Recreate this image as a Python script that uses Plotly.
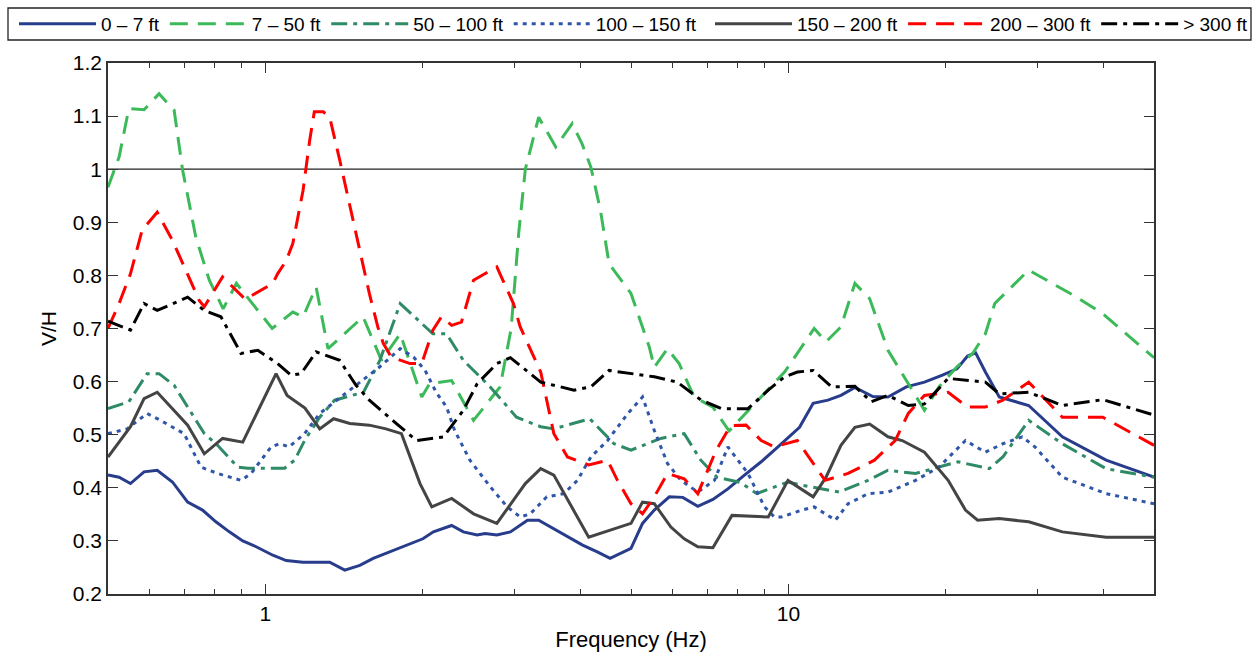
import plotly.graph_objects as go

# ---- data (frequency in Hz, V/H ratio) ----
f_0_7 = [0.5, 0.525, 0.552, 0.586, 0.621, 0.664, 0.71, 0.758, 0.804, 0.853, 0.905, 0.96, 1.033, 1.096, 1.179,
         1.327, 1.418, 1.515, 1.607, 1.73, 1.862, 2.0, 2.095, 2.27, 2.39, 2.54, 2.63, 2.77, 2.94, 3.17, 3.33, 3.56,
         3.78, 4.04, 4.32, 4.56, 5.0, 5.26, 5.54, 5.92, 6.28, 6.71, 7.17, 7.66, 8.24, 8.87, 9.55, 10.5, 11.15, 11.9,
         12.6, 13.4, 14.5, 15.5, 16.8, 18.2, 19.7, 21.0, 22.0, 22.8, 23.8, 25.3, 28.8, 33.4, 40.5, 50]
v_0_7 = [0.424, 0.420, 0.408, 0.430, 0.433, 0.411, 0.373, 0.358, 0.336, 0.317, 0.300, 0.289, 0.273, 0.263, 0.260,
         0.260, 0.245, 0.254, 0.267, 0.279, 0.292, 0.304, 0.317, 0.329, 0.317, 0.311, 0.314, 0.311, 0.317, 0.339,
         0.339, 0.323, 0.307, 0.292, 0.279, 0.267, 0.286, 0.333, 0.358, 0.383, 0.382, 0.365, 0.378, 0.398, 0.424,
         0.449, 0.477, 0.514, 0.559, 0.565, 0.574, 0.589, 0.572, 0.571, 0.590, 0.599, 0.612, 0.624, 0.648, 0.654,
         0.618, 0.571, 0.555, 0.496, 0.452, 0.420]

f_7_50 = [0.5, 0.525, 0.548, 0.586, 0.626, 0.669, 0.694, 0.736, 0.781, 0.83, 0.88, 1.03, 1.128, 1.18, 1.25,
          1.317, 1.537, 1.667, 1.81, 1.96, 1.99, 2.06, 2.27, 2.5, 2.81, 2.95, 3.05, 3.14, 3.33, 3.43, 3.59, 3.86,
          4.03, 4.19, 4.37, 4.54, 5.0, 5.42, 5.54, 5.87, 6.18, 6.6, 7.17, 7.7, 9.83, 11.2, 11.8, 12.6, 13.4, 14.3,
          15.5, 16.5, 18.2, 19.4, 21.0, 22.5, 23.8, 24.8, 28.8, 35.0, 39.9, 50]
v_7_50 = [0.966, 1.023, 1.114, 1.112, 1.142, 1.111, 1.0, 0.872, 0.791, 0.737, 0.785, 0.700, 0.731, 0.722, 0.778,
          0.662, 0.722, 0.640, 0.690, 0.593, 0.571, 0.596, 0.602, 0.527, 0.590, 0.70, 0.88, 1.0, 1.098, 1.076,
          1.042, 1.086, 1.048, 1.004, 0.923, 0.822, 0.766, 0.665, 0.627, 0.662, 0.634, 0.571, 0.552, 0.507, 0.618,
          0.700, 0.675, 0.703, 0.785, 0.756, 0.659, 0.615, 0.546, 0.590, 0.628, 0.653, 0.690, 0.747, 0.810, 0.763,
          0.728, 0.645]

f_50_100 = [0.5, 0.548, 0.594, 0.626, 0.669, 0.764, 0.81, 0.885, 0.925, 1.088, 1.137, 1.188, 1.27, 1.356, 1.54,
            1.655, 1.81, 2.09, 2.22, 2.39, 2.69, 3.02, 3.36, 3.56, 4.17, 4.64, 5.0, 5.7, 6.32, 6.8, 7.3, 8.1, 8.7,
            9.98, 10.6, 12.5, 14.2, 15.5, 17.5, 19.4, 21.1, 24.2, 25.7, 28.8, 33.4, 40.5, 50]
v_50_100 = [0.549, 0.562, 0.615, 0.615, 0.593, 0.502, 0.480, 0.439, 0.437, 0.437, 0.452, 0.489, 0.533, 0.565, 0.580,
            0.640, 0.747, 0.690, 0.690, 0.640, 0.590, 0.533, 0.515, 0.511, 0.530, 0.483, 0.471, 0.493, 0.502, 0.452,
            0.420, 0.410, 0.389, 0.411, 0.405, 0.392, 0.414, 0.433, 0.427, 0.439, 0.449, 0.436, 0.458, 0.527, 0.483,
            0.436, 0.420]

f_100_150 = [0.5, 0.544, 0.594, 0.63, 0.699, 0.753, 0.81, 0.898, 0.939, 1.025, 1.064, 1.11, 1.188, 1.27, 1.45,
             1.655, 1.81, 1.92, 2.02, 2.12, 2.22, 2.30, 2.46, 2.69, 2.9, 3.07, 3.21, 3.45, 3.72, 3.95, 4.19, 4.51,
             4.93, 5.26, 5.54, 5.87, 6.23, 6.71, 7.22, 7.66, 8.37, 9.0, 9.4, 9.7, 10.6, 11.2, 12.3, 13.0, 14.2, 15.5,
             17.5, 19.4, 21.8, 23.8, 25.7, 28.0, 29.6, 33.4, 40.5, 50]
v_100_150 = [0.502, 0.511, 0.540, 0.527, 0.502, 0.439, 0.427, 0.414, 0.427, 0.477, 0.483, 0.477, 0.502, 0.540, 0.584,
             0.628, 0.662, 0.646, 0.621, 0.580, 0.552, 0.508, 0.452, 0.402, 0.364, 0.345, 0.351, 0.383, 0.389, 0.414,
             0.458, 0.489, 0.540, 0.571, 0.508, 0.446, 0.414, 0.392, 0.414, 0.477, 0.427, 0.364, 0.345, 0.345, 0.358,
             0.364, 0.339, 0.370, 0.389, 0.392, 0.414, 0.439, 0.489, 0.467, 0.483, 0.496, 0.477, 0.420, 0.389, 0.370]

f_150_200 = [0.5, 0.552, 0.586, 0.621, 0.71, 0.764, 0.828, 0.905, 1.048, 1.10, 1.19, 1.27, 1.35, 1.45, 1.58, 1.70,
             1.82, 1.975, 2.08, 2.27, 2.5, 2.77, 3.14, 3.36, 3.56, 4.15, 5.0, 5.26, 5.54, 5.96, 6.32, 6.71, 7.17, 7.8,
             9.15, 9.98, 11.15, 11.8, 12.6, 13.4, 14.3, 15.5, 16.5, 18.2, 20.2, 21.8, 23.0, 25.3, 28.8, 33.4, 40.5, 50]
v_150_200 = [0.458, 0.515, 0.568, 0.580, 0.518, 0.464, 0.493, 0.486, 0.615, 0.574, 0.550, 0.511, 0.530, 0.521, 0.518,
             0.511, 0.502, 0.408, 0.364, 0.380, 0.351, 0.333, 0.408, 0.436, 0.424, 0.307, 0.333, 0.373, 0.370, 0.326,
             0.304, 0.289, 0.287, 0.348, 0.345, 0.414, 0.383, 0.420, 0.480, 0.514, 0.520, 0.496, 0.489, 0.467, 0.414,
             0.358, 0.339, 0.342, 0.336, 0.317, 0.307, 0.307]

f_200_300 = [0.5, 0.525, 0.552, 0.581, 0.621, 0.664, 0.704, 0.747, 0.764, 0.828, 0.915, 1.033, 1.055, 1.096, 1.128,
             1.18, 1.215, 1.24, 1.29, 1.327, 1.387, 1.45, 1.515, 1.58, 1.64, 1.68, 1.74, 1.89, 1.99, 2.09, 2.17, 2.27,
             2.37, 2.5, 2.59, 2.77, 2.98, 3.07, 3.36, 3.56, 3.78, 4.15, 4.51, 4.71, 5.0, 5.26, 5.54, 5.87, 6.32, 6.71,
             7.27, 7.75, 8.3, 8.87, 9.4, 10.4, 11.75, 13.0, 14.6, 16.0, 16.95, 18.2, 20.2, 22.0, 23.8, 25.7, 28.8,
             33.4, 39.9, 50]
v_200_300 = [0.700, 0.747, 0.803, 0.885, 0.919, 0.866, 0.810, 0.753, 0.741, 0.797, 0.755, 0.785, 0.803, 0.828, 0.860,
             0.960, 1.054, 1.108, 1.108, 1.098, 1.017, 0.929, 0.847, 0.766, 0.703, 0.672, 0.646, 0.634, 0.634, 0.697,
             0.722, 0.706, 0.712, 0.791, 0.800, 0.816, 0.747, 0.703, 0.618, 0.502, 0.458, 0.443, 0.452, 0.414, 0.370,
             0.351, 0.383, 0.427, 0.417, 0.389, 0.470, 0.517, 0.518, 0.489, 0.477, 0.489, 0.414, 0.427, 0.452, 0.489,
             0.540, 0.574, 0.580, 0.552, 0.552, 0.565, 0.599, 0.533, 0.533, 0.480]

f_300 = [0.5, 0.552, 0.586, 0.621, 0.71, 0.764, 0.822, 0.898, 0.967, 1.055, 1.12, 1.17, 1.25, 1.387, 1.49, 1.58,
         1.78, 1.945, 2.19, 2.39, 2.54, 2.77, 2.94, 3.36, 3.89, 4.19, 4.54, 5.54, 6.13, 6.81, 7.45, 8.37, 9.15, 9.83,
         10.4, 11.15, 12.1, 13.4, 14.4, 15.5, 16.95, 18.2, 20.2, 22.0, 23.8, 25.3, 28.8, 33.4, 39.9, 50]
v_300 = [0.714, 0.697, 0.747, 0.734, 0.759, 0.734, 0.722, 0.653, 0.659, 0.634, 0.612, 0.615, 0.656, 0.640, 0.593,
         0.565, 0.521, 0.489, 0.496, 0.546, 0.596, 0.634, 0.645, 0.599, 0.584, 0.590, 0.621, 0.609, 0.599, 0.565,
         0.549, 0.549, 0.584, 0.609, 0.618, 0.621, 0.590, 0.591, 0.562, 0.574, 0.555, 0.558, 0.606, 0.602, 0.599,
         0.577, 0.580, 0.555, 0.566, 0.537]

series_names = ["0 \u2013 7 ft", "7 \u2013 50 ft", "50 \u2013 100 ft", "100 \u2013 150 ft",
                "150 \u2013 200 ft", "200 \u2013 300 ft", "> 300 ft"]
series_f = [f_0_7, f_7_50, f_50_100, f_100_150, f_150_200, f_200_300, f_300]
series_v = [v_0_7, v_7_50, v_50_100, v_100_150, v_150_200, v_200_300, v_300]

x_major_ticks = [1, 10]
x_minor_ticks = [0.6, 0.7, 0.8, 0.9, 2, 3, 4, 5, 6, 7, 8, 9, 20, 30, 40]
y_ticks = [0.2, 0.3, 0.4, 0.5, 0.6, 0.7, 0.8, 0.9, 1.0, 1.1, 1.2]
y_ticktext = ["0.2", "0.3", "0.4", "0.5", "0.6", "0.7", "0.8", "0.9", "1", "1.1", "1.2"]
reference_level = 1.0

# ---- styles ----
colors = ["#283c8c", "#3cba5a", "#2e8b66", "#2f56a8", "#444444", "#ff0000", "#000000"]
dashes = ["solid", "18px,10px", "16px,6px,4px,6px", "4px,5px", "solid", "18px,10px", "16px,6px,4px,6px"]
widths = [3, 3, 3, 3, 3, 3, 3]
legend_ids = ["legend", "legend", "legend", "legend", "legend2", "legend2", "legend2"]

FONT = "Liberation Sans, Arial, Helvetica, sans-serif"

# plot area in pixels (for converting legend placement to paper coords)
L, R, T, B, W, H = 108, 101, 63, 65, 1255, 659
PW, PH = W - L - R, H - T - B


def px_x(px):
    return (px - L) / PW


def px_y(py):
    return (H - B - py) / PH


fig = go.Figure()
for name, fx, vy, c, d, w, lg in zip(series_names, series_f, series_v, colors, dashes, widths, legend_ids):
    fig.add_trace(go.Scatter(x=fx, y=vy, mode="lines", name=name, legend=lg,
                             line=dict(color=c, dash=d, width=w)))

fig.add_hline(y=reference_level, line=dict(color="#222222", width=1.2), layer="below")

# legend frame spanning both legend blocks
fig.add_shape(type="rect", xref="paper", yref="paper",
              x0=px_x(8), x1=px_x(1251), y0=px_y(40), y1=px_y(8),
              line=dict(color="#222222", width=1.3), fillcolor="rgba(0,0,0,0)", layer="above")

legend_common = dict(orientation="h", yanchor="middle", y=px_y(24), xanchor="left",
                     borderwidth=0, bgcolor="rgba(0,0,0,0)",
                     font=dict(family=FONT, size=19, color="black"),
                     itemwidth=77, tracegroupgap=0)

fig.update_layout(
    width=W, height=H,
    margin=dict(l=L, r=R, t=T, b=B, autoexpand=False),
    paper_bgcolor="white", plot_bgcolor="white",
    font=dict(family=FONT, size=21, color="black"),
    showlegend=True,
    legend=dict(x=px_x(14), **legend_common),
    legend2=dict(x=px_x(710), **legend_common),
)

fig.update_xaxes(
    type="log", range=[-0.30103, 1.69897],
    tickvals=x_major_ticks, ticktext=[str(t) for t in x_major_ticks],
    ticks="inside", ticklen=10, tickwidth=1.2, tickcolor="#333333",
    minor=dict(tickvals=x_minor_ticks, ticks="inside", ticklen=5, tickwidth=1.2, tickcolor="#333333", showgrid=False),
    showline=True, linecolor="#333333", linewidth=1.5, mirror="ticks",
    showgrid=False, zeroline=False,
    title=dict(text="Frequency (Hz)", font=dict(size=22), standoff=8),
    tickfont=dict(size=21),
)
fig.update_yaxes(
    range=[0.2, 1.2], tickvals=y_ticks, ticktext=y_ticktext,
    ticks="inside", ticklen=10, tickwidth=1.2, tickcolor="#333333",
    showline=True, linecolor="#333333", linewidth=1.5, mirror="ticks",
    showgrid=False, zeroline=False,
    title=dict(text="V/H", font=dict(size=21), standoff=10),
    tickfont=dict(size=21),
)

fig.write_html("out.html")
